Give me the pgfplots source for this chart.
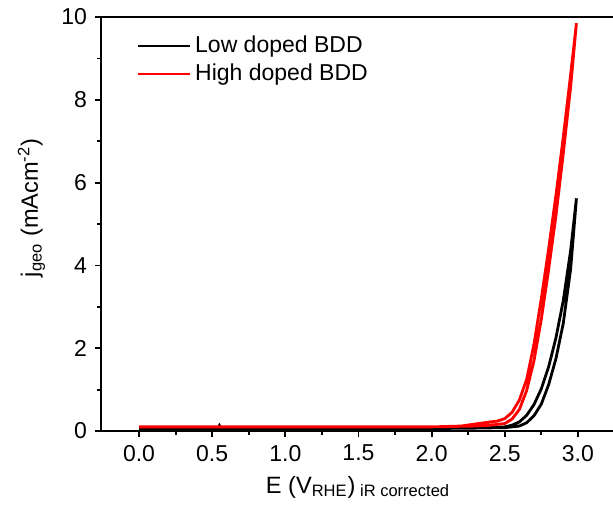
\documentclass[border=0pt]{standalone}
\usepackage{pgfplots}
\pgfplotsset{compat=1.18}
\usepackage{fontspec}
\setmainfont{Liberation Sans}
\begin{document}
\fontsize{11.5}{13.5}\selectfont
\begin{tikzpicture}
\begin{axis}[
  scale only axis, width=256pt, height=207pt,
  xmin=-0.26, xmax=3.24, ymin=0, ymax=10,
  axis x line=box, axis y line=left,
  axis line style={-, line width=1pt, black},
  xtick={0,0.5,1,1.5,2,2.5,3}, ytick={0,2,4,6,8,10},
  minor tick num=1,
  tick align=outside, xtick pos=bottom, ytick pos=left,
  major tick length=3pt, minor tick length=1.8pt,
  every tick/.style={line width=0.9pt, black},
  ticklabel style={font=\fontsize{11.5}{13.5}\selectfont},
  xticklabel style={/pgf/number format/.cd, fixed, fixed zerofill, precision=1},
  /pgf/number format/assume math mode=true,
  xlabel={E (V\textsubscript{RHE})\textsubscript{\ iR corrected}},
  ylabel={j\textsubscript{geo} (mAcm\textsuperscript{-2})},
  label style={font=\fontsize{11.8}{14}\selectfont},
  xlabel style={at={(axis description cs:0.502,0)}, anchor=center, yshift=-28pt},
  ylabel style={at={(axis description cs:-0.136,0.539)}, anchor=center},
  legend style={at={(axis description cs:0.057,0.975)}, anchor=north west, draw=none, fill=none, row sep=0pt, font=\fontsize{11.5}{13.5}\selectfont},
  legend cell align=left,
  legend image code/.code={\draw[#1, line width=1.3pt] (0pt,0pt) -- (26pt,0pt);},
]
\addplot[black, line width=1.4pt] coordinates {
(0,0.06) (0.54,0.06) (0.55,0.13) (0.56,0.06) (1.0,0.06) (1.5,0.06) (2.0,0.06) (2.3,0.07) (2.4,0.08) (2.5,0.1) (2.55,0.14) (2.6,0.22) (2.65,0.38) (2.7,0.64) (2.75,1.02) (2.8,1.55) (2.85,2.25) (2.9,3.15) (2.95,4.35) (2.99,5.62)
(2.97,4.75) (2.95,3.9) (2.9,2.6) (2.85,1.75) (2.8,1.12) (2.75,0.65) (2.7,0.37) (2.65,0.2) (2.6,0.12) (2.5,0.08) (2.0,0.06) (1.0,0.06) (0,0.06)
};
\addlegendentry{Low doped BDD}
\addplot[red, line width=1.4pt] coordinates {
(0,0.1) (0.5,0.1) (1.0,0.1) (1.5,0.1) (2.0,0.1) (2.2,0.12) (2.3,0.17) (2.4,0.22) (2.45,0.24) (2.5,0.3) (2.55,0.45) (2.6,0.75) (2.65,1.25) (2.7,2.1) (2.75,3.2) (2.8,4.4) (2.85,5.7) (2.9,7.1) (2.95,8.6) (2.99,9.85)
(2.95,8.3) (2.9,6.7) (2.85,5.2) (2.8,3.9) (2.75,2.7) (2.7,1.7) (2.65,0.98) (2.6,0.52) (2.55,0.29) (2.5,0.18) (2.4,0.14) (2.3,0.12) (2.0,0.1) (1.0,0.1) (0,0.1)
};
\addlegendentry{High doped BDD}
\end{axis}
\path (current axis.south west) ++(-50.5pt,-39.5pt) coordinate (BBA);
\path (current axis.north east) ++(0pt,8.5pt) coordinate (BBB);
\pgfresetboundingbox
\path[use as bounding box] (BBA) rectangle (BBB);
\end{tikzpicture}
\end{document}
